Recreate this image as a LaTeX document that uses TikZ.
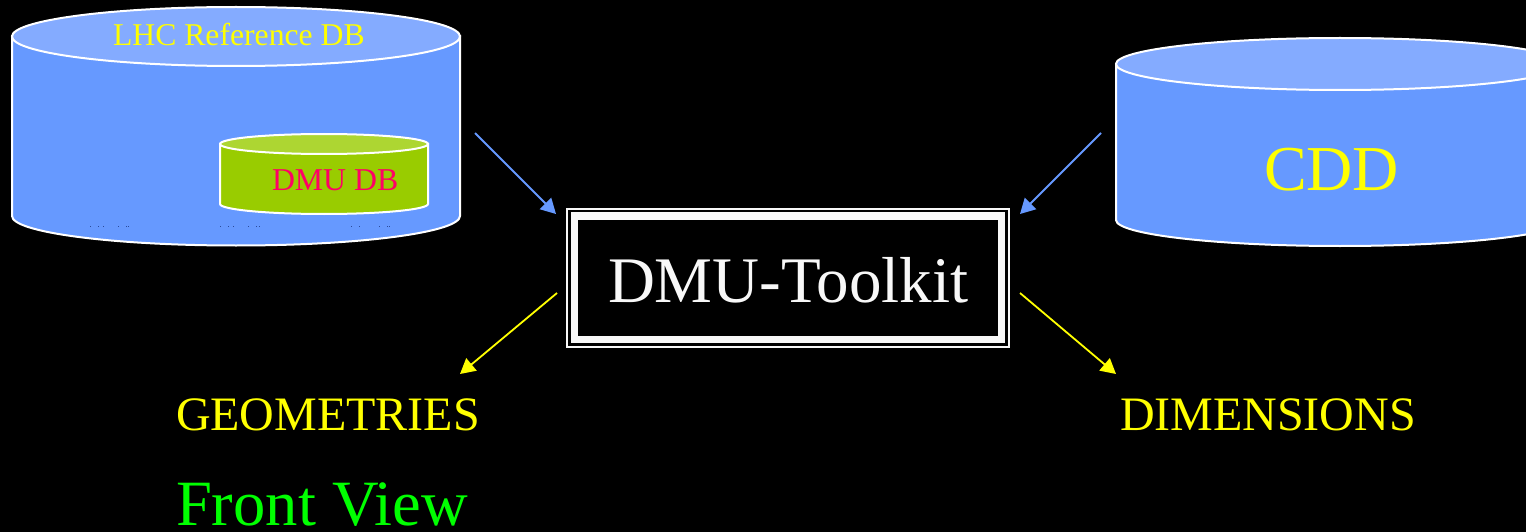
\documentclass[tikz,border=0pt]{standalone}
\usepackage{fontspec}
\setmainfont{Liberation Serif}
\usetikzlibrary{arrows.meta}
\definecolor{bodyblue}{HTML}{6699FF}
\definecolor{capblue}{HTML}{84ABFF}
\definecolor{bodygreen}{HTML}{99CC00}
\definecolor{capgreen}{HTML}{ADD632}
\definecolor{dbpink}{HTML}{FF0066}
\definecolor{speck}{HTML}{2A4A9A}
\definecolor{pureyellow}{HTML}{FFFF00}
\definecolor{puregreen}{HTML}{00FF00}
\definecolor{framewhite}{HTML}{F8F8F8}
\tikzset{
  label text/.style={anchor=base west,inner sep=0pt,outer sep=0pt},
  cyl edge/.style={draw=white,line width=2pt},
  flow/.style={line width=1.8pt,-{Triangle[length=15pt,width=16pt]}},
  inflow/.style={flow,draw=bodyblue,fill=bodyblue},
  outflow/.style={flow,draw=pureyellow,fill=pureyellow}
}
\begin{document}
\begin{tikzpicture}[x=1pt,y=-1pt]
\useasboundingbox (0,0) rectangle (1526,532);
\fill[black] (0,0) rectangle (1526,532);
\begin{scope}
\clip (0,0) rectangle (1526,532);
% LHC cylinder
\path[cyl edge,fill=bodyblue] (12,36) -- (12,216) arc[start angle=180,end angle=0,x radius=224,y radius=29.5] -- (460,36) -- cycle;
\path[cyl edge,fill=capblue] (236,36.5) ellipse[x radius=224,y radius=29.5];
% specks
\foreach \sx in {90,97.5,103,118,126,128,220,228,233,248,256,259,351,359,379,387,389}
  \fill[speck] (\sx,226) rectangle +(1,1);
% DMU cylinder
\path[cyl edge,fill=bodygreen] (220,144) -- (220,204) arc[start angle=180,end angle=0,x radius=104,y radius=10] -- (428,144) -- cycle;
\path[cyl edge,fill=capgreen] (324,144) ellipse[x radius=104,y radius=10];
% CDD cylinder
\path[cyl edge,fill=bodyblue] (1116,64) -- (1116,220) arc[start angle=180,end angle=0,x radius=224,y radius=26] -- (1564,64) -- cycle;
\path[cyl edge,fill=capblue] (1340,64) ellipse[x radius=224,y radius=26];
\end{scope}
% Toolkit frame
\draw[framewhite,line width=2pt,fill=black] (567,209) rectangle (1009,346.5);
\draw[framewhite,line width=7.5pt,fill=black] (574.5,216) rectangle (1001.5,339.5);
% Labels
\node[label text,pureyellow,font=\fontsize{31.7}{36}\selectfont] (lhc) at (113,46) {LHC Reference DB};
\node[label text,dbpink,font=\fontsize{31.8}{36}\selectfont] (dmudb) at (272,190) {DMU DB};
\node[label text,pureyellow,font=\fontsize{64}{70}\selectfont] (cdd) at (1264,190) {CDD};
\node[label text,framewhite,font=\fontsize{65}{70}\selectfont] (toolkit) at (608,302) {DMU-Toolkit};
\node[label text,pureyellow,font=\fontsize{48}{54}\selectfont] (geom) at (176,430) {GEOMETRIES};
\node[label text,pureyellow,font=\fontsize{48}{54}\selectfont] (dims) at (1120,430) {DIMENSIONS};
\node[label text,puregreen,font=\fontsize{64.6}{70}\selectfont] (front) at (176,525) {Front View};
% Connector ends
\coordinate (lhcout) at (475,133);
\coordinate (toolkitinl) at (556,214);
\coordinate (cddout) at (1101,133);
\coordinate (toolkitinr) at (1020,214);
\coordinate (toolkitoutl) at (557,293);
\coordinate (geomin) at (460,374);
\coordinate (toolkitoutr) at (1020,293);
\coordinate (dimsin) at (1116,374);
\draw[inflow] (lhcout) -- (toolkitinl);
\draw[inflow] (cddout) -- (toolkitinr);
\draw[outflow] (toolkitoutl) -- (geomin);
\draw[outflow] (toolkitoutr) -- (dimsin);
\end{tikzpicture}
\end{document}
